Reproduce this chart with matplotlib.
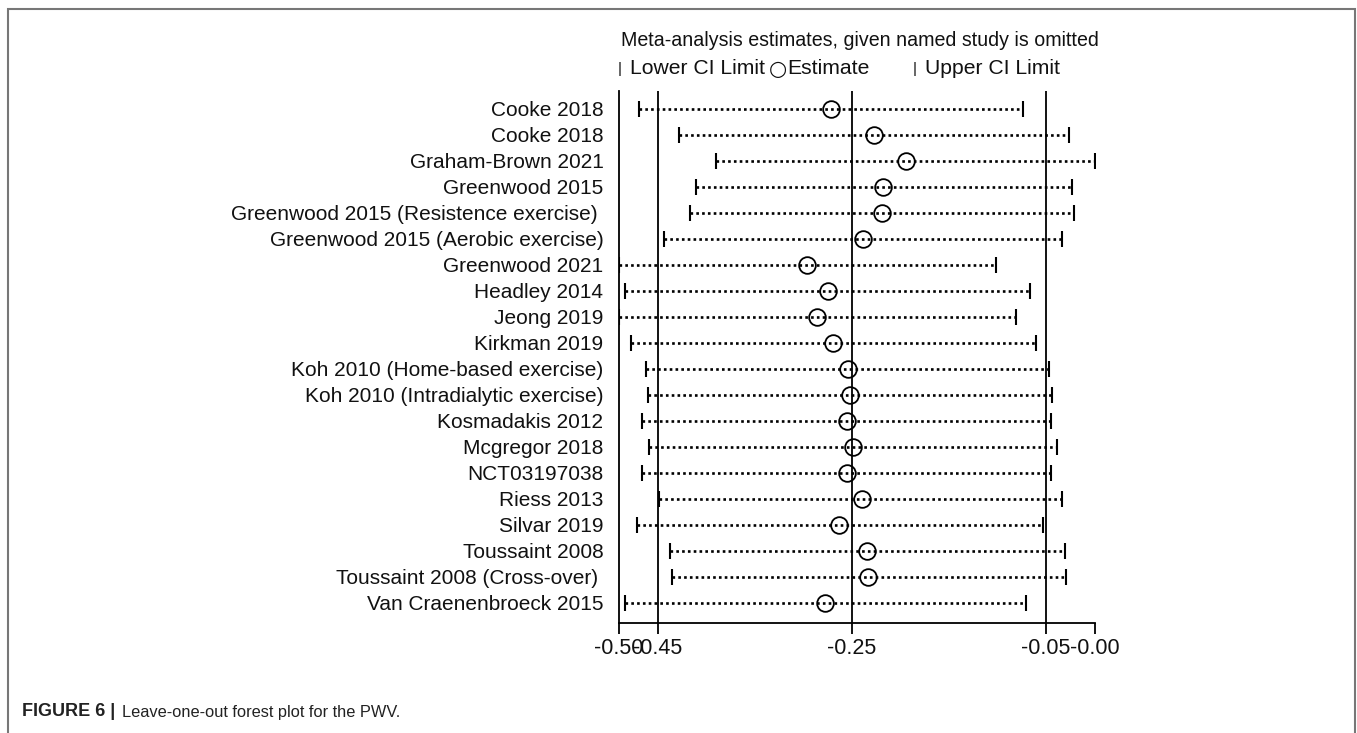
import matplotlib
matplotlib.use("Agg")
import matplotlib.pyplot as plt
from matplotlib.patches import Rectangle

plt.rcParams['font.family'] = ['Liberation Sans', 'DejaVu Sans']

studies = ["Cooke 2018", "Cooke 2018", "Graham-Brown 2021", "Greenwood 2015",
           "Greenwood 2015 (Resistence exercise) ", "Greenwood 2015 (Aerobic exercise)",
           "Greenwood 2021", "Headley 2014", "Jeong 2019", "Kirkman 2019",
           "Koh 2010 (Home-based exercise)", "Koh 2010 (Intradialytic exercise)",
           "Kosmadakis 2012", "Mcgregor 2018", "NCT03197038", "Riess 2013",
           "Silvar 2019", "Toussaint 2008", "Toussaint 2008 (Cross-over) ",
           "Van Craenenbroeck 2015"]
lower = [-0.470, -0.428, -0.390, -0.411, -0.417, -0.444, -0.490, -0.484, -0.490, -0.478,
         -0.462, -0.460, -0.466, -0.459, -0.466, -0.449, -0.472, -0.438, -0.436, -0.484]
estimate = [-0.272, -0.227, -0.194, -0.218, -0.219, -0.239, -0.296, -0.275, -0.286, -0.270,
            -0.254, -0.252, -0.255, -0.249, -0.255, -0.240, -0.263, -0.235, -0.233, -0.278]
upper = [-0.074, -0.026, 0.000, -0.023, -0.021, -0.033, -0.102, -0.066, -0.081, -0.060,
         -0.047, -0.044, -0.045, -0.039, -0.045, -0.033, -0.053, -0.030, -0.029, -0.071]
overall = [-0.45, -0.25, -0.05]
tick_values = [-0.4905, -0.45, -0.25, -0.05, 0.0]
tick_labels = ["-0.50", "-0.45", "-0.25", "-0.05", "-0.00"]

W, H = 1357, 733
fig = plt.figure(figsize=(W / 100, H / 100), dpi=100)

ax_left, ax_right, ax_top, ax_bottom = 618.7, 1094.5, 91, 623
ax = fig.add_axes([ax_left / W, 1 - ax_bottom / H, (ax_right - ax_left) / W, (ax_bottom - ax_top) / H])

n = len(studies)
ys = [n - i for i in range(n)]

for v in overall:
    ax.axvline(v, color='black', lw=1.3, zorder=1)

for y, lo, es, up in zip(ys, lower, estimate, upper):
    ax.plot([lo, up], [y, y], color='black', lw=1.9, linestyle=(0, (1, 1.2)), zorder=2)
ax.plot(lower, ys, linestyle='none', marker='|', markersize=11, mew=1.5, color='black', zorder=3)
ax.plot(upper, ys, linestyle='none', marker='|', markersize=11, mew=1.5, color='black', zorder=3)
ax.plot(estimate, ys, linestyle='none', marker='o', markersize=12, mfc='none', mec='black', mew=1.3, zorder=4)

ax.set_xlim(tick_values[0], 0.0)
ax.set_ylim(0.23, n + 0.69)
ax.set_xticks(tick_values)
ax.set_xticklabels(tick_labels, fontsize=15.5, color='#111111')
ax.set_yticks(ys)
ax.set_yticklabels(studies, fontsize=15, color='#111111')
ax.tick_params(axis='y', length=0, pad=11)
ax.tick_params(axis='x', length=8, width=1.3, pad=3)
for s in ['top', 'right']:
    ax.spines[s].set_visible(False)
for s in ['left', 'bottom']:
    ax.spines[s].set_linewidth(1.3)

fig.text(860 / W, 1 - 41 / H, "Meta-analysis estimates, given named study is omitted",
         ha='center', va='center', fontsize=14.1, color='#111111')
fig.text(618 / W, 1 - 69 / H, "|", ha='left', va='center', fontsize=11, color='#111111')
fig.text(630 / W, 1 - 69 / H, "Lower CI Limit", ha='left', va='center', fontsize=15.2, color='#111111')
fig.text(769 / W, 1 - 69 / H, "○", ha='left', va='center', fontsize=15, color='#111111',
         family=['DejaVu Sans'])
fig.text(787 / W, 1 - 69 / H, "Estimate", ha='left', va='center', fontsize=15.2, color='#111111')
fig.text(913 / W, 1 - 69 / H, "|", ha='left', va='center', fontsize=11, color='#111111')
fig.text(925 / W, 1 - 69 / H, "Upper CI Limit", ha='left', va='center', fontsize=15.2, color='#111111')

fig.text(22 / W, 1 - 712 / H, "FIGURE 6 |", ha='left', va='center', fontsize=13,
         fontweight='bold', color='#222222')
fig.text(122 / W, 1 - 712 / H, "Leave-one-out forest plot for the PWV.", ha='left', va='center',
         fontsize=11.8, color='#222222')

fig.patches.append(Rectangle((8 / W, -0.05), (1355 - 8) / W, 1 - 9 / H + 0.05,
                             transform=fig.transFigure, fill=False, edgecolor='#777777', lw=1.5))

fig.savefig("out.png", dpi=100)
